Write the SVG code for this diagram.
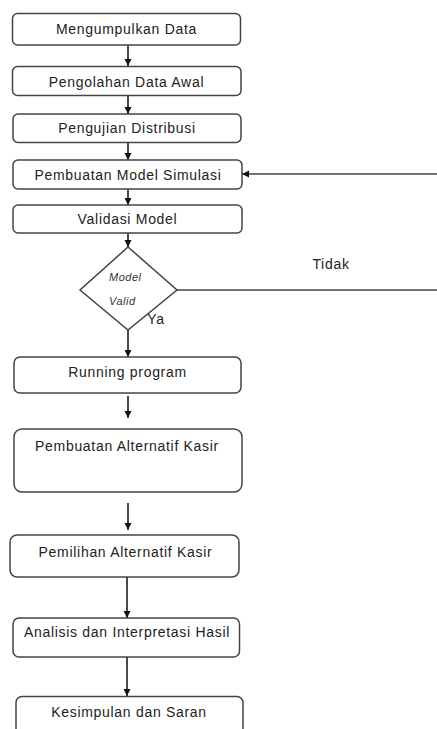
<svg xmlns="http://www.w3.org/2000/svg" width="437" height="729" viewBox="0 0 437 729">
<style>
.box{fill:#fff;stroke:#444;stroke-width:1.5}
.t{font-family:"Liberation Sans",Arial,sans-serif;font-size:14px;fill:#222;text-anchor:middle;letter-spacing:0.7px}
.ti{font-family:"Liberation Sans",Arial,sans-serif;font-size:11px;font-style:italic;fill:#333;letter-spacing:0.5px}
.c{stroke:#111;stroke-width:1.5;fill:none}
.cg{stroke:#444;stroke-width:1.5;fill:none}
</style>
<defs>
<marker id="ah" markerUnits="userSpaceOnUse" markerWidth="8" markerHeight="8" refX="7" refY="4" orient="auto">
<path d="M0,0.5 L7,4 L0,7.5 Z" fill="#111"/>
</marker>
</defs>
<rect width="437" height="729" fill="#fff"/>
<g id="connectors">
<line class="c" x1="128" y1="45" x2="128" y2="66" marker-end="url(#ah)"/>
<line class="c" x1="128" y1="96" x2="128" y2="114" marker-end="url(#ah)"/>
<line class="c" x1="128" y1="143" x2="128" y2="160" marker-end="url(#ah)"/>
<line class="c" x1="128" y1="189" x2="128" y2="205" marker-end="url(#ah)"/>
<line class="c" x1="128" y1="233" x2="128" y2="247" marker-end="url(#ah)"/>
<line class="c" x1="128" y1="330" x2="128" y2="357" marker-end="url(#ah)"/>
<line class="c" x1="128" y1="396" x2="128" y2="418" marker-end="url(#ah)"/>
<line class="c" x1="128" y1="503" x2="128" y2="530" marker-end="url(#ah)"/>
<line class="c" x1="127" y1="577" x2="127" y2="618" marker-end="url(#ah)"/>
<line class="c" x1="127" y1="657" x2="127" y2="696" marker-end="url(#ah)"/>
<line class="cg" x1="437" y1="174" x2="242" y2="174" marker-end="url(#ah)"/>
<line class="cg" x1="177" y1="290" x2="437" y2="290"/>
<text class="t" x="331" y="269">Tidak</text>
<text class="t" x="156" y="323.5">Ya</text>
</g>
<g id="n1"><rect class="box" x="12.5" y="13.5" width="228" height="31.5" rx="5"/><text class="t" x="126.5" y="34">Mengumpulkan Data</text></g>
<g id="n2"><rect class="box" x="12.5" y="66.5" width="228.5" height="29" rx="5"/><text class="t" x="126.5" y="87">Pengolahan Data Awal</text></g>
<g id="n3"><rect class="box" x="13" y="114" width="228" height="28.5" rx="5"/><text class="t" x="127" y="133">Pengujian Distribusi</text></g>
<g id="n4"><rect class="box" x="13" y="160" width="229" height="29" rx="5"/><text class="t" x="128" y="180">Pembuatan Model Simulasi</text></g>
<g id="n5"><rect class="box" x="13" y="205" width="229" height="28" rx="5"/><text class="t" x="127.5" y="224">Validasi Model</text></g>
<g id="n6"><polygon class="box" points="128,247 177,290 128,330 80,290"/><text class="ti" x="109" y="281">Model</text><text class="ti" x="109" y="305">Valid</text></g>
<g id="n7"><rect class="box" x="14" y="357" width="227" height="36" rx="6"/><text class="t" x="127.5" y="377">Running program</text></g>
<g id="n8"><rect class="box" x="14" y="429" width="228" height="63" rx="8"/><text class="t" x="127" y="451">Pembuatan Alternatif Kasir</text></g>
<g id="n9"><rect class="box" x="10" y="535" width="229" height="42" rx="7"/><text class="t" x="125.5" y="557">Pemilihan Alternatif Kasir</text></g>
<g id="n10"><rect class="box" x="13" y="618" width="226.5" height="39" rx="6"/><text class="t" x="127" y="637">Analisis dan Interpretasi Hasil</text></g>
<g id="n11"><rect class="box" x="16" y="696.5" width="227" height="50" rx="6"/><text class="t" x="129" y="717">Kesimpulan dan Saran</text></g>
</svg>
